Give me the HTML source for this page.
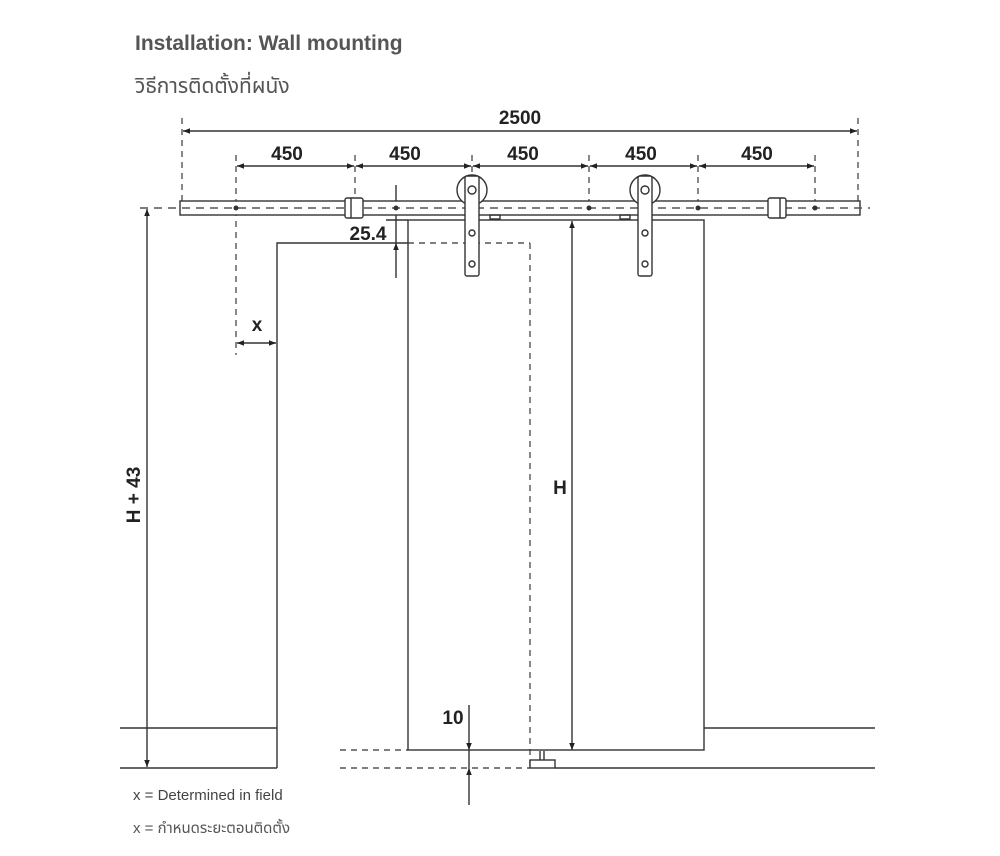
<!DOCTYPE html>
<html><head><meta charset="utf-8"><style>
html,body{margin:0;padding:0;background:#fff;}
svg{display:block;}
</style></head><body>
<svg width="1000" height="856" viewBox="0 0 1000 856" xmlns="http://www.w3.org/2000/svg">
<defs>
<marker id="a" viewBox="0 0 10 10" refX="10" refY="5" markerWidth="13" markerHeight="7" orient="auto-start-reverse" markerUnits="userSpaceOnUse"><path d="M0,1 L10,5 L0,9z" fill="#222"/></marker>
</defs>
<rect width="1000" height="856" fill="#fff"/>
<text x="135" y="50" font-family="Liberation Sans, sans-serif" font-weight="bold" font-size="21" fill="#555">Installation: Wall mounting</text>
<text x="135" y="93" font-family="Liberation Sans, 'Noto Sans Thai', 'DejaVu Sans', sans-serif" font-size="21" fill="#555">วิธีการติดตั้งที่ผนัง</text>

<g stroke="#333" stroke-width="1.4" fill="none">
<g stroke-dasharray="6,5" stroke="#555">
<line x1="182" y1="118" x2="182" y2="205"/>
<line x1="858" y1="118" x2="858" y2="205"/>
<line x1="236" y1="155" x2="236" y2="355"/>
<line x1="355" y1="155" x2="355" y2="200"/>
<line x1="472" y1="155" x2="472" y2="175"/>
<line x1="589" y1="155" x2="589" y2="215"/>
<line x1="698" y1="155" x2="698" y2="215"/>
<line x1="815" y1="155" x2="815" y2="215"/>
<line x1="408" y1="243" x2="530" y2="243"/>
<line x1="530" y1="243" x2="530" y2="768"/>
<line x1="340" y1="750" x2="408" y2="750"/>
<line x1="340" y1="768" x2="530" y2="768"/>
</g>
<line x1="183" y1="131" x2="857" y2="131" marker-start="url(#a)" marker-end="url(#a)"/>
<line x1="237" y1="166" x2="354" y2="166" marker-start="url(#a)" marker-end="url(#a)"/>
<line x1="356" y1="166" x2="471" y2="166" marker-start="url(#a)" marker-end="url(#a)"/>
<line x1="473" y1="166" x2="588" y2="166" marker-start="url(#a)" marker-end="url(#a)"/>
<line x1="590" y1="166" x2="697" y2="166" marker-start="url(#a)" marker-end="url(#a)"/>
<line x1="699" y1="166" x2="814" y2="166" marker-start="url(#a)" marker-end="url(#a)"/>
<line x1="396" y1="185" x2="396" y2="208" marker-end="url(#a)"/>
<line x1="396" y1="278" x2="396" y2="243" marker-end="url(#a)"/>
<line x1="396" y1="208" x2="396" y2="243"/>
<line x1="386" y1="220" x2="408" y2="220"/>
<line x1="572" y1="221" x2="572" y2="750" marker-start="url(#a)" marker-end="url(#a)"/>
<line x1="147" y1="209" x2="147" y2="767" marker-start="url(#a)" marker-end="url(#a)"/>
<line x1="237" y1="343" x2="256" y2="343" marker-start="url(#a)"/>
<line x1="256" y1="343" x2="276" y2="343" marker-end="url(#a)"/>
<line x1="469" y1="705" x2="469" y2="750" marker-end="url(#a)"/>
<line x1="469" y1="805" x2="469" y2="768" marker-end="url(#a)"/>
<line x1="469" y1="750" x2="469" y2="768"/>
<rect x="180" y="201" width="680" height="14" fill="#fff"/>
<line x1="140" y1="208" x2="870" y2="208" stroke-dasharray="8,6" stroke="#555"/>
<rect x="345" y="198" width="18" height="20" rx="2" fill="#fff"/>
<line x1="351" y1="198" x2="351" y2="218"/>
<rect x="768" y="198" width="18" height="20" rx="2" fill="#fff"/>
<line x1="780" y1="198" x2="780" y2="218"/>
<polyline points="408,243 277,243 277,768"/>
<line x1="120" y1="728" x2="277" y2="728"/>
<line x1="120" y1="768" x2="277" y2="768"/>
<line x1="704" y1="728" x2="875" y2="728"/>
<line x1="555" y1="768" x2="875" y2="768"/>
<rect x="408" y="220" width="296" height="530" fill="none"/>
<rect x="490" y="215" width="10" height="4"/>
<rect x="620" y="215" width="10" height="4"/>
<rect x="530" y="760" width="25" height="8" fill="#fff"/>
<line x1="540" y1="751" x2="540" y2="760"/><line x1="544" y1="751" x2="544" y2="760"/>
<g fill="#fff">
<circle cx="472" cy="190" r="15"/>
<rect x="465" y="176" width="14" height="100" rx="2"/>
<circle cx="472" cy="190" r="4"/>
<circle cx="472" cy="233" r="3"/>
<circle cx="472" cy="264" r="3"/>
<circle cx="645" cy="190" r="15"/>
<rect x="638" y="176" width="14" height="100" rx="2"/>
<circle cx="645" cy="190" r="4"/>
<circle cx="645" cy="233" r="3"/>
<circle cx="645" cy="264" r="3"/>
</g>
</g>
<g fill="#333">
<circle cx="236" cy="208" r="2.5"/><circle cx="589" cy="208" r="2.5"/><circle cx="698" cy="208" r="2.5"/><circle cx="815" cy="208" r="2.5"/><circle cx="396" cy="208" r="2.5"/>
</g>
<g font-family="Liberation Sans, sans-serif" font-weight="bold" font-size="19" fill="#222" text-anchor="middle">
<text x="520" y="124">2500</text>
<text x="287" y="160">450</text>
<text x="405" y="160">450</text>
<text x="523" y="160">450</text>
<text x="641" y="160">450</text>
<text x="757" y="160">450</text>
<text x="368" y="240">25.4</text>
<text x="257" y="331">x</text>
<text x="560" y="494">H</text>
<text x="453" y="724">10</text>
<text transform="translate(140,495) rotate(-90)">H + 43</text>
</g>
<text x="133" y="800" font-family="Liberation Sans, sans-serif" font-size="15" fill="#444">x = Determined in field</text>
<text x="133" y="833" font-family="Liberation Sans, 'Noto Sans Thai', 'DejaVu Sans', sans-serif" font-size="15" fill="#555">x = กำหนดระยะตอนติดตั้ง</text>
</svg>
</body></html>
